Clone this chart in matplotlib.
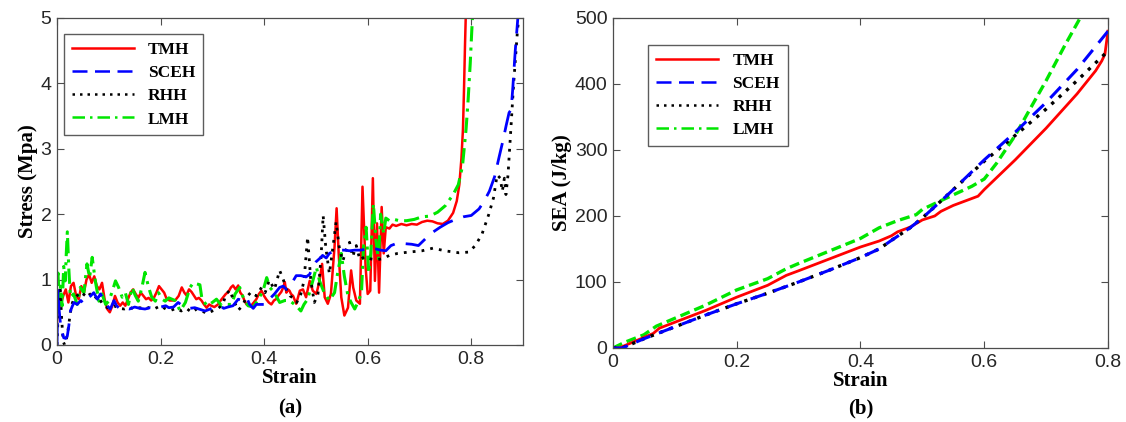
import matplotlib
matplotlib.use("Agg")
import matplotlib.pyplot as plt
from matplotlib.lines import Line2D

# ---- (a) stress-strain, points ----
tmh_strain = [0.0, 0.003, 0.007, 0.012, 0.017, 0.022, 0.027, 0.032, 0.037, 0.042, 0.047, 0.052, 0.057, 0.062,
              0.067, 0.072, 0.077, 0.082, 0.087, 0.092, 0.097, 0.102, 0.107, 0.112, 0.117, 0.122, 0.127, 0.132,
              0.137, 0.142, 0.147, 0.152, 0.157, 0.162, 0.167, 0.172, 0.177, 0.182, 0.187, 0.192, 0.197, 0.202,
              0.207, 0.212, 0.218, 0.228, 0.235, 0.241, 0.246, 0.25, 0.255, 0.26, 0.265, 0.269, 0.274, 0.279,
              0.284, 0.289, 0.294, 0.298, 0.304, 0.311, 0.316, 0.321, 0.326, 0.331, 0.336, 0.34, 0.345, 0.35,
              0.354, 0.358, 0.362, 0.366, 0.371, 0.375, 0.38, 0.385, 0.39, 0.395, 0.4, 0.404, 0.409, 0.414,
              0.419, 0.423, 0.428, 0.433, 0.437, 0.44, 0.443, 0.446, 0.449, 0.452, 0.456, 0.462, 0.469, 0.475,
              0.481, 0.488, 0.494, 0.501, 0.507, 0.512, 0.517, 0.523, 0.529, 0.536, 0.54, 0.544, 0.549, 0.555,
              0.562, 0.568, 0.572, 0.578, 0.585, 0.59, 0.596, 0.6, 0.605, 0.61, 0.614, 0.618, 0.622, 0.627,
              0.631, 0.635, 0.642, 0.648, 0.655, 0.665, 0.675, 0.685, 0.695, 0.705, 0.715, 0.725, 0.735, 0.745,
              0.755, 0.765, 0.772, 0.777, 0.781, 0.784, 0.786, 0.788, 0.79]
tmh_stress = [0.35, 0.8, 0.6, 0.75, 0.85, 0.65, 0.9, 0.95, 0.75, 0.7, 0.9, 0.8, 1.0, 1.08,
              0.95, 1.05, 0.9, 0.85, 0.95, 0.7, 0.55, 0.5, 0.6, 0.75, 0.65, 0.6, 0.65, 0.6,
              0.7, 0.8, 0.85, 0.78, 0.72, 0.8, 0.75, 0.7, 0.72, 0.68, 0.72, 0.8, 0.9, 0.85,
              0.8, 0.7, 0.68, 0.68, 0.75, 0.88, 0.8, 0.76, 0.85, 0.81, 0.75, 0.7, 0.72, 0.68,
              0.62, 0.57, 0.62, 0.6, 0.58, 0.62, 0.68, 0.73, 0.78, 0.81, 0.88, 0.91, 0.85, 0.91,
              0.8, 0.76, 0.68, 0.62, 0.6, 0.6, 0.65, 0.7, 0.78, 0.83, 0.75, 0.7, 0.65, 0.62,
              0.68, 0.7, 0.76, 0.81, 0.88, 0.96, 0.8, 0.85, 0.83, 0.78, 0.75, 0.63, 0.83, 0.85,
              0.73, 0.98, 0.83, 0.78, 0.98, 1.24, 0.73, 0.63, 0.78, 1.5, 2.09, 1.4, 0.73, 0.45,
              0.57, 1.14, 0.88, 0.68, 0.63, 2.42, 1.19, 0.78, 0.83, 2.55, 0.98, 1.86, 0.8, 2.11,
              1.4, 1.8, 1.78, 1.84, 1.82, 1.85, 1.83, 1.85, 1.84, 1.88, 1.9, 1.89, 1.86, 1.85,
              1.9, 2.02, 2.2, 2.45, 2.85, 3.3, 3.9, 4.6, 5.2]

sceh_strain = [0.0, 0.002, 0.004, 0.007, 0.01, 0.013, 0.017, 0.02, 0.023, 0.026, 0.03, 0.033, 0.039, 0.046,
               0.052, 0.058, 0.065, 0.071, 0.078, 0.084, 0.09, 0.097, 0.103, 0.11, 0.115, 0.122, 0.13, 0.14,
               0.15, 0.16, 0.17, 0.18, 0.19, 0.2, 0.21, 0.216, 0.225, 0.234, 0.244, 0.256, 0.266, 0.286,
               0.296, 0.305, 0.315, 0.322, 0.33, 0.34, 0.35, 0.358, 0.366, 0.372, 0.379, 0.385, 0.395, 0.404,
               0.41, 0.42, 0.43, 0.437, 0.443, 0.449, 0.456, 0.462, 0.471, 0.481, 0.488, 0.494, 0.5, 0.507,
               0.513, 0.52, 0.526, 0.536, 0.545, 0.555, 0.565, 0.575, 0.585, 0.595, 0.605, 0.615, 0.625, 0.635,
               0.645, 0.655, 0.67, 0.685, 0.698, 0.711, 0.725, 0.74, 0.755, 0.77, 0.785, 0.8, 0.815, 0.825,
               0.835, 0.845, 0.854, 0.862, 0.867, 0.873, 0.877, 0.88, 0.885, 0.889, 0.891]
sceh_stress = [0.0, 0.85, 0.55, 0.3, 0.2, 0.11, 0.1, 0.14, 0.3, 0.52, 0.6, 0.65, 0.62, 0.68,
               0.63, 0.71, 0.75, 0.8, 0.7, 0.78, 0.7, 0.6, 0.55, 0.68, 0.6, 0.55, 0.57, 0.55,
               0.58, 0.56, 0.55, 0.57, 0.56, 0.58, 0.6, 0.57, 0.58, 0.65, 0.59, 0.56, 0.57, 0.52,
               0.55, 0.58, 0.6, 0.56, 0.58, 0.6, 0.7, 0.68, 0.73, 0.62, 0.56, 0.62, 0.62, 0.62,
               0.7, 0.78, 0.88, 0.9, 0.85, 0.88, 0.98, 1.06, 1.06, 1.04, 1.08, 1.2, 1.27, 1.32,
               1.37, 1.33, 1.4, 1.44, 1.45, 1.45, 1.44, 1.45, 1.45, 1.46, 1.48, 1.47, 1.45, 1.44,
               1.52, 1.55, 1.55, 1.54, 1.52, 1.62, 1.72, 1.8, 1.87, 1.92, 1.96, 1.98, 2.08, 2.2,
               2.35, 2.57, 2.88, 3.15, 3.34, 3.55, 3.6, 3.9, 4.5, 4.9, 5.1]

rhh_strain = [0.0, 0.003, 0.006, 0.009, 0.012, 0.015, 0.02, 0.026, 0.03, 0.036, 0.042, 0.049, 0.055, 0.06,
              0.066, 0.072, 0.078, 0.084, 0.09, 0.1, 0.11, 0.12, 0.13, 0.14, 0.15, 0.16, 0.17, 0.18,
              0.19, 0.2, 0.21, 0.22, 0.23, 0.24, 0.25, 0.26, 0.27, 0.28, 0.29, 0.3, 0.31, 0.32,
              0.327, 0.334, 0.34, 0.35, 0.358, 0.366, 0.375, 0.385, 0.395, 0.402, 0.41, 0.42, 0.43, 0.437,
              0.443, 0.45, 0.456, 0.463, 0.471, 0.477, 0.484, 0.49, 0.497, 0.504, 0.51, 0.514, 0.519, 0.526,
              0.533, 0.539, 0.545, 0.552, 0.558, 0.565, 0.571, 0.578, 0.585, 0.594, 0.603, 0.616, 0.629, 0.642,
              0.658, 0.679, 0.705, 0.726, 0.749, 0.776, 0.795, 0.808, 0.821, 0.834, 0.843, 0.85, 0.856, 0.86,
              0.864, 0.867, 0.871, 0.876, 0.882, 0.889, 0.893]
rhh_stress = [0.0, 0.6, 0.9, 0.4, 0.05, 0.0, 0.15, 0.5, 0.65, 0.73, 0.78, 0.74, 0.8, 0.82,
              0.74, 0.7, 0.75, 0.68, 0.6, 0.56, 0.6, 0.56, 0.55, 0.58, 0.54, 0.57, 0.55, 0.58,
              0.56, 0.6, 0.55, 0.53, 0.56, 0.52, 0.56, 0.5, 0.55, 0.52, 0.48, 0.52, 0.55, 0.62,
              0.78, 0.84, 0.7, 0.53, 0.6, 0.73, 0.81, 0.75, 0.88, 0.8, 0.99, 0.85, 1.14, 1.0,
              0.85, 0.75, 0.72, 0.65, 0.78, 0.98, 1.65, 1.0, 0.65, 0.78, 1.34, 1.98, 1.5, 1.09,
              1.5, 1.88, 1.5, 1.28, 1.45, 1.57, 1.35, 1.52, 1.3, 1.35, 1.32, 1.3, 1.32, 1.37,
              1.4, 1.42, 1.44, 1.48, 1.44, 1.41, 1.42, 1.52, 1.7, 2.0, 2.25, 2.6, 2.55, 2.35,
              2.55, 2.3, 2.6, 3.24, 4.01, 4.78, 5.1]

lmh_strain = [0.0, 0.002, 0.004, 0.007, 0.01, 0.013, 0.016, 0.018, 0.02, 0.023, 0.026, 0.032, 0.039, 0.045,
              0.052, 0.058, 0.063, 0.068, 0.074, 0.081, 0.087, 0.094, 0.1, 0.106, 0.113, 0.119, 0.126, 0.132,
              0.138, 0.145, 0.151, 0.157, 0.164, 0.17, 0.177, 0.183, 0.19, 0.196, 0.203, 0.209, 0.216, 0.228,
              0.238, 0.248, 0.257, 0.263, 0.276, 0.28, 0.29, 0.3, 0.308, 0.318, 0.328, 0.337, 0.344, 0.353,
              0.36, 0.369, 0.379, 0.389, 0.398, 0.405, 0.411, 0.42, 0.43, 0.44, 0.449, 0.462, 0.471, 0.477,
              0.484, 0.494, 0.501, 0.507, 0.516, 0.526, 0.536, 0.542, 0.549, 0.555, 0.562, 0.568, 0.575, 0.581,
              0.588, 0.592, 0.597, 0.602, 0.606, 0.611, 0.616, 0.621, 0.625, 0.631, 0.635, 0.642, 0.651, 0.661,
              0.675, 0.69, 0.705, 0.72, 0.735, 0.75, 0.765, 0.775, 0.783, 0.79, 0.794, 0.798, 0.801, 0.803]
lmh_stress = [0.6, 1.1, 0.6, 0.9, 0.6, 1.2, 0.98, 1.4, 1.73, 1.14, 0.73, 0.78, 0.62, 0.88,
              0.8, 1.24, 1.03, 1.34, 0.98, 0.67, 0.78, 0.62, 0.67, 0.8, 0.98, 0.88, 0.73, 0.8,
              0.62, 0.88, 0.76, 0.67, 0.88, 1.11, 0.88, 0.73, 0.67, 0.8, 0.7, 0.67, 0.72, 0.68,
              0.52, 0.65, 0.88, 0.95, 0.92, 0.7, 0.6, 0.65, 0.7, 0.6, 0.62, 0.62, 0.78, 0.88,
              0.72, 0.6, 0.58, 0.7, 0.83, 1.03, 0.88, 0.8, 0.65, 0.68, 0.68, 0.6, 0.52, 0.62,
              0.7, 0.98, 1.19, 0.98, 0.8, 0.68, 0.8, 1.1, 1.4, 1.05, 0.75, 0.65, 0.55, 0.65,
              0.8, 1.5, 1.8, 1.1, 1.4, 2.16, 1.6, 1.3, 2.0, 1.7, 1.94, 1.9, 1.92, 1.9,
              1.9, 1.92, 1.96, 1.97, 2.03, 2.13, 2.3, 2.45, 2.73, 3.3, 3.75, 4.3, 4.8, 5.1]

# ---- (b) SEA-strain ----
sea_tmh_strain = [0, 0.01, 0.03, 0.05, 0.065, 0.075, 0.1, 0.15, 0.2, 0.25, 0.28, 0.3, 0.35, 0.4, 0.43, 0.45,
                  0.46, 0.48, 0.5, 0.52, 0.53, 0.55, 0.57, 0.59, 0.6, 0.62, 0.65, 0.7, 0.75, 0.78, 0.79, 0.795, 0.8]
sea_tmh = [0, 0, 8, 16, 22, 30, 39, 57, 77, 95, 110, 117, 135, 153, 162, 170,
           176, 183, 194, 200, 207, 216, 223, 230, 240, 258, 285, 333, 385, 420, 435, 445, 480]

sea_sceh_strain = [0, 0.015, 0.05, 0.1, 0.15, 0.2, 0.25, 0.3, 0.35, 0.4, 0.43, 0.45, 0.48, 0.5, 0.52,
                   0.55, 0.6, 0.65, 0.7, 0.75, 0.8]
sea_sceh = [0, 0, 14, 32, 50, 67, 83, 100, 118, 137, 150, 163, 182, 197, 214, 240, 285, 327, 372, 422, 480]
sea_rhh_strain = sea_sceh_strain
sea_rhh = [0, 0, 14, 32, 50, 67, 83, 100, 118, 137, 150, 163, 182, 197, 214, 240, 283, 322, 362, 405, 450]

sea_lmh_strain = [0, 0.02, 0.05, 0.07, 0.1, 0.15, 0.2, 0.25, 0.28, 0.3, 0.35, 0.4, 0.43, 0.46, 0.49, 0.5,
                  0.55, 0.58, 0.6, 0.62, 0.65, 0.68, 0.7, 0.73, 0.755, 0.77]
sea_lmh = [0, 9, 20, 33, 45, 65, 88, 105, 120, 128, 147, 166, 182, 193, 202, 210,
           232, 245, 256, 280, 322, 372, 405, 458, 500, 530]

labels = ["TMH", "SCEH", "RHH", "LMH"]

RED = "#ff0000"
BLUE = "#0000ff"
GREEN = "#00e600"
SERIF = "Liberation Serif"
SANS = "Liberation Sans"


def style_axes(ax):
    for sp in ax.spines.values():
        sp.set_color("#4d4d4d")
        sp.set_linewidth(0.9)
    ax.tick_params(direction="in", top=True, right=True, length=5, width=0.8,
                   color="#4d4d4d", labelsize=14, labelcolor="#262626", pad=4)
    for lab in ax.get_xticklabels() + ax.get_yticklabels():
        lab.set_fontfamily(SANS)


def legend_handles():
    return [
        Line2D([], [], color=RED, lw=1.8, ls="-"),
        Line2D([], [], color=BLUE, lw=1.8, dashes=(6, 3)),
        Line2D([], [], color="black", lw=1.8, dashes=(1, 2)),
        Line2D([], [], color=GREEN, lw=1.8, dashes=(5, 2, 1, 2)),
    ]


def add_legend(ax, anchor):
    leg = ax.legend(legend_handles(), labels, loc="upper left", bbox_to_anchor=anchor,
                    borderaxespad=0, fancybox=False, handlelength=3.6, handletextpad=0.8,
                    labelspacing=0.4, borderpad=0.45,
                    prop={"family": SERIF, "weight": "bold", "size": 12.5})
    leg.get_frame().set_edgecolor("#333333")
    leg.get_frame().set_linewidth(1.0)
    return leg


fig = plt.figure(figsize=(11.26, 4.22), dpi=100)
ax1 = fig.add_axes([0.0506, 0.1825, 0.4139, 0.775])
ax2 = fig.add_axes([0.5444, 0.1754, 0.4396, 0.782])

ax1.plot(tmh_strain, tmh_stress, color=RED, lw=1.8)
ax1.plot(lmh_strain, lmh_stress, color=GREEN, lw=2.2, dashes=(5, 2, 1, 2))
ax1.plot(rhh_strain, rhh_stress, color="black", lw=2.0, dashes=(1, 2.2))
ax1.plot(sceh_strain, sceh_stress, color=BLUE, lw=2.0, dashes=(8, 4))
ax1.set_xlim(0, 0.9)
ax1.set_ylim(0, 5)
ax1.set_xticks([0, 0.2, 0.4, 0.6, 0.8])
ax1.set_xticklabels(["0", "0.2", "0.4", "0.6", "0.8"])
ax1.set_yticks([0, 1, 2, 3, 4, 5])
style_axes(ax1)
ax1.set_xlabel("Strain", fontfamily=SERIF, fontweight="bold", fontsize=15, labelpad=0)
ax1.set_ylabel("Stress (Mpa)", fontfamily=SERIF, fontweight="bold", fontsize=15, labelpad=2)
add_legend(ax1, (0.015, 0.95))

ax2.plot(sea_lmh_strain, sea_lmh, color=GREEN, lw=2.4, dashes=(3, 1.5))
ax2.plot(sea_tmh_strain, sea_tmh, color=RED, lw=2.0)
ax2.plot(sea_rhh_strain, sea_rhh, color="black", lw=2.4, dashes=(1, 2))
ax2.plot(sea_sceh_strain, sea_sceh, color=BLUE, lw=2.2, dashes=(5, 3))
ax2.set_xlim(0, 0.8)
ax2.set_ylim(0, 500)
ax2.set_xticks([0, 0.2, 0.4, 0.6, 0.8])
ax2.set_xticklabels(["0", "0.2", "0.4", "0.6", "0.8"])
ax2.set_yticks([0, 100, 200, 300, 400, 500])
style_axes(ax2)
ax2.set_xlabel("Strain", fontfamily=SERIF, fontweight="bold", fontsize=15, labelpad=0)
ax2.set_ylabel("SEA (J/kg)", fontfamily=SERIF, fontweight="bold", fontsize=15, labelpad=2)
add_legend(ax2, (0.071, 0.918))

fig.text(0.2575, 0.033, "(a)", ha="center", va="center", fontfamily=SERIF,
         fontweight="bold", fontsize=15)
fig.text(0.7642, 0.033, "(b)", ha="center", va="center", fontfamily=SERIF,
         fontweight="bold", fontsize=15)

fig.savefig("out.png", dpi=100)
